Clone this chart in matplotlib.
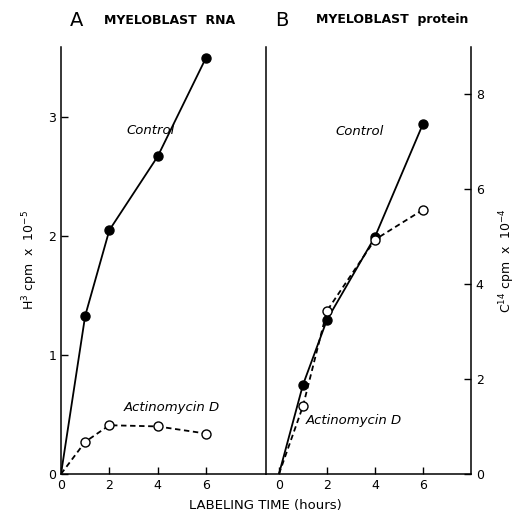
import matplotlib
matplotlib.use("Agg")
import matplotlib.pyplot as plt

# Panel A: RNA (H3 cpm x 10^-5)
hours_a = [0, 1, 2, 4, 6]
rna_control = [0, 1.33, 2.05, 2.67, 3.50]
rna_actino = [0, 0.27, 0.41, 0.40, 0.34]

# Panel B: protein (C14 cpm x 10^-4)
hours_b = [0, 1, 2, 4, 6]
prot_control = [0, 1.88, 3.25, 5.0, 7.38]
prot_actino = [0, 1.43, 3.44, 4.94, 5.57]

xticks = [0, 2, 4, 6]
yticks_a = [0, 1, 2, 3]
yticks_b = [0, 2, 4, 6, 8]

plt.rcParams['font.family'] = ['DejaVu Sans']
fig = plt.figure(figsize=(5.17, 5.17), dpi=100)

axA = fig.add_axes([61/517, 1-474/517, (266-61)/517, (474-47)/517])
axB = fig.add_axes([266/517, 1-474/517, (471-266)/517, (474-47)/517])

lw = 1.3
ms = 6.5
# Panel A
axA.plot(hours_a, rna_control, '-', color='black', lw=lw, marker='o', ms=ms,
         mfc='black', mec='black', markevery=[1, 2, 3, 4])
axA.plot(hours_a, rna_actino, '--', color='black', lw=lw, marker='o', ms=ms,
         mfc='white', mec='black', mew=1.0, markevery=[1, 2, 3, 4], dashes=(3, 2))
axA.set_xlim(0, 8.48)
axA.set_ylim(0, 3.59)
axA.set_xticks(xticks)
axA.set_yticks(yticks_a)
axA.spines['top'].set_visible(False)
axA.spines['right'].set_visible(False)
axA.tick_params(direction='in', length=5, width=1, labelsize=9)
axA.set_ylabel(r'H$^3$ cpm  x  10$^{-5}$', fontsize=9, labelpad=6)
axA.text(2.7, 2.86, 'Control', style='italic', fontsize=9.5)
axA.text(2.6, 0.53, 'Actinomycin D', style='italic', fontsize=9.5)

# Panel B
axB.plot(hours_b, prot_control, '-', color='black', lw=lw, marker='o', ms=ms,
         mfc='black', mec='black', markevery=[1, 2, 3, 4])
axB.plot(hours_b, prot_actino, '--', color='black', lw=lw, marker='o', ms=ms,
         mfc='white', mec='black', mew=1.0, markevery=[1, 2, 3, 4], dashes=(3, 2))
axB.set_xlim(-0.54, 8.0)
axB.set_ylim(0, 9.0)
axB.set_xticks(xticks)
axB.set_yticks(yticks_b)
axB.yaxis.tick_right()
axB.yaxis.set_label_position('right')
axB.spines['top'].set_visible(False)
axB.tick_params(direction='in', length=5, width=1, labelsize=9)
axB.tick_params(axis='y', left=False, right=True)
axB.set_ylabel(r'C$^{14}$ cpm  x  10$^{-4}$', fontsize=9, labelpad=10)
axB.text(2.35, 7.15, 'Control', style='italic', fontsize=9.5)
axB.text(1.1, 1.05, 'Actinomycin D', style='italic', fontsize=9.5)

for ax in (axA, axB):
    for s in ax.spines.values():
        s.set_linewidth(1.1)

fig.text(70/517, 1-20/517, 'A', fontsize=14, va='center')
fig.text(104/517, 1-20/517, 'MYELOBLAST  RNA', fontsize=9, fontweight='bold', va='center')
fig.text(275/517, 1-20/517, 'B', fontsize=14, va='center')
fig.text(316/517, 1-20/517, 'MYELOBLAST  protein', fontsize=9, fontweight='bold', va='center')
fig.text(265/517, 1-505/517, 'LABELING TIME (hours)', fontsize=9.5, ha='center', va='center')

fig.savefig('out.png', dpi=100)
